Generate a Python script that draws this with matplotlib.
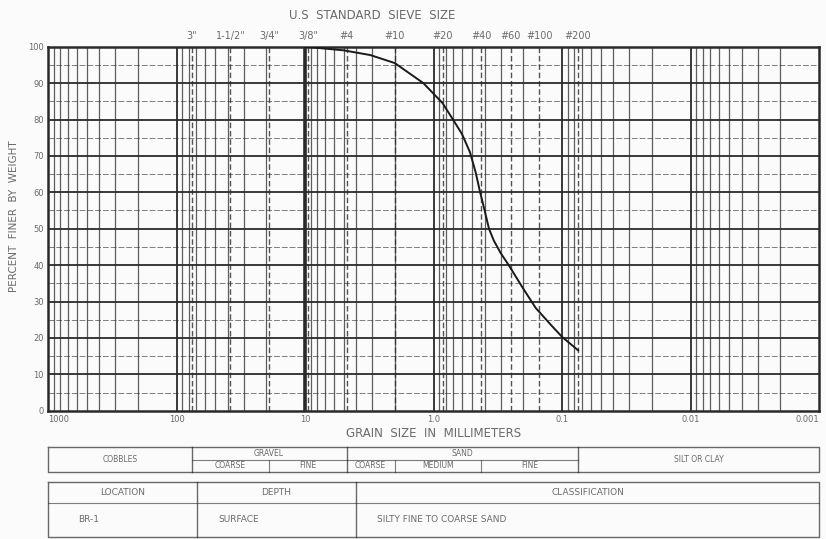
import numpy as np
import matplotlib
matplotlib.use('Agg')
import matplotlib.pyplot as plt
from matplotlib import transforms

# grain size curve
grain_mm = [10.0, 5.0, 3.1, 2.0, 1.2, 0.85, 0.70, 0.60, 0.52, 0.47, 0.435, 0.40, 0.37, 0.34, 0.30, 0.26, 0.20, 0.16, 0.12, 0.10, 0.075]
pct_finer = [100, 99.0, 97.7, 95.5, 90.0, 84.5, 79.8, 76.0, 71.0, 65.5, 60.2, 55.0, 50.0, 46.8, 43.3, 40.0, 33.5, 28.2, 23.3, 20.3, 16.6]

# sieve sizes (mm) and names
sieve_mm = [76.2, 38.1, 19.05, 9.5, 4.75, 2.0, 0.85, 0.425, 0.25, 0.15, 0.075]
sieve_names = ['3"', '1-1/2"', '3/4"', '3/8"', '#4', '#10', '#20', '#40', '#60', '#100', '#200']

x_ticks = [1000, 100, 10, 1, 0.1, 0.01, 0.001]
x_labels = ['1000', '100', '10', '1.0', '0.1', '0.01', '0.001']
y_ticks = list(range(0, 101, 10))

# soil classes: (name, coarse bound, fine bound, subdivisions)
classes = [
    ('COBBLES', 1000, 76.2, []),
    ('GRAVEL', 76.2, 4.75, [('COARSE', 76.2, 19.05), ('FINE', 19.05, 4.75)]),
    ('SAND', 4.75, 0.075, [('COARSE', 4.75, 2.0), ('MEDIUM', 2.0, 0.425), ('FINE', 0.425, 0.075)]),
    ('SILT OR CLAY', 0.075, 0.001, []),
]

info_heads = ['LOCATION', 'DEPTH', 'CLASSIFICATION']
info_row = ['BR-1', 'SURFACE', 'SILTY FINE TO COARSE SAND']

W, H = 826, 539
ink = '#2a2a2a'
txt = '#6a6a6a'

fig = plt.figure(figsize=(W / 100, H / 100), dpi=100)
fig.patch.set_facecolor('#fbfbfb')
ax = fig.add_axes([48 / W, 1 - 410.7 / H, 771 / W, 364 / H])
ax.set_facecolor('#fbfbfb')
ax.set_xscale('log')
ax.set_xlim(1000, 0.001)
ax.set_ylim(0, 100)

# log grid
for dec in [100, 10, 1, 0.1, 0.01, 0.001]:
    for m in range(2, 10):
        ax.axvline(dec * m, color=ink, lw=0.9, alpha=0.75, zorder=1)
for d in [100, 10, 1, 0.1, 0.01]:
    ax.axvline(d, color=ink, lw=1.3 if d != 10 else 2.6, zorder=1)
for s in sieve_mm:
    ax.axvline(s, color=ink, lw=1.0, ls=(0, (4, 2)), alpha=0.8, zorder=1)
for y in range(5, 100, 5):
    if y % 10:
        ax.axhline(y, color=ink, lw=0.7, ls=(0, (6, 2)), alpha=0.6, zorder=1)
    else:
        ax.axhline(y, color=ink, lw=1.3, zorder=1)

ax.plot(grain_mm, pct_finer, color='#1a1a1a', lw=1.4, zorder=3)

for sp in ax.spines.values():
    sp.set_linewidth(1.8)
    sp.set_color(ink)

ax.set_xticks(x_ticks)
ax.set_xticklabels(x_labels)
ax.xaxis.set_minor_locator(plt.NullLocator())
ax.set_yticks(y_ticks)
ax.tick_params(length=0, labelsize=6, colors=txt, pad=3)
xl = ax.get_xticklabels()
xl[0].set_horizontalalignment('left')
xl[-1].set_horizontalalignment('right')

# sieve labels on top
for s, n in zip(sieve_mm, sieve_names):
    ax.text(s, 101.5, n, ha='center', va='bottom', fontsize=7, color=txt)
ax.text(0.42, 1.087, 'U.S  STANDARD  SIEVE  SIZE', transform=ax.transAxes,
        ha='center', va='center', fontsize=8.5, color=txt)
ax.set_xlabel('GRAIN  SIZE  IN  MILLIMETERS', fontsize=8.5, color=txt, labelpad=2)
fig.text(14 / W, 1 - 216 / H, 'PERCENT  FINER  BY  WEIGHT', rotation=90,
         ha='center', va='center', fontsize=7.5, color=txt)

# tables below, in pixel coordinates
lay = fig.add_axes([0, 0, 1, 1])
lay.set_xlim(0, W)
lay.set_ylim(H, 0)
lay.axis('off')
lay.patch.set_alpha(0)
bl = transforms.blended_transform_factory(ax.transData, lay.transData)

def gm(a, b):
    return np.sqrt(a * b)

top, mid, bot = 447, 460, 472
lay.plot([1000, 0.001, 0.001, 1000, 1000], [top, top, bot, bot, top],
         transform=bl, color=ink, lw=1.0, alpha=0.7, clip_on=False)
for name, a, b, subs in classes:
    if b != 0.001:
        lay.plot([b, b], [top, bot], transform=bl, color=ink, lw=1.0, alpha=0.7, clip_on=False)
    if subs:
        lay.plot([a, b], [mid, mid], transform=bl, color=ink, lw=0.8, alpha=0.6, clip_on=False)
        lay.text(gm(a, b), (top + mid) / 2, name, transform=bl, ha='center', va='center',
                 fontsize=5.5, color=txt)
        for sname, sa, sb in subs:
            if sb != b:
                lay.plot([sb, sb], [mid, bot], transform=bl, color=ink, lw=0.8, alpha=0.6, clip_on=False)
            lay.text(gm(sa, sb), (mid + bot) / 2, sname, transform=bl, ha='center', va='center',
                     fontsize=5.5, color=txt)
    else:
        lay.text(gm(a, b), (top + bot) / 2, name, transform=bl, ha='center', va='center',
                 fontsize=5.5, color=txt)

t2, hdr, b2 = 482, 503, 537
cols = [48, 197, 356, 819]
lay.plot([cols[0], cols[-1], cols[-1], cols[0], cols[0]], [t2, t2, b2, b2, t2],
         color=ink, lw=1.0, alpha=0.7)
lay.plot([cols[0], cols[-1]], [hdr, hdr], color=ink, lw=0.8, alpha=0.6)
for c in cols[1:-1]:
    lay.plot([c, c], [t2, b2], color=ink, lw=1.0, alpha=0.7)
row_x = [78, 218, 377]
for i, head in enumerate(info_heads):
    lay.text((cols[i] + cols[i + 1]) / 2, (t2 + hdr) / 2, head, ha='center', va='center',
             fontsize=6.5, color=txt)
    lay.text(row_x[i], (hdr + b2) / 2, info_row[i], ha='left', va='center',
             fontsize=6.5, color=txt)

fig.savefig('out.png', dpi=100, facecolor=fig.get_facecolor())
